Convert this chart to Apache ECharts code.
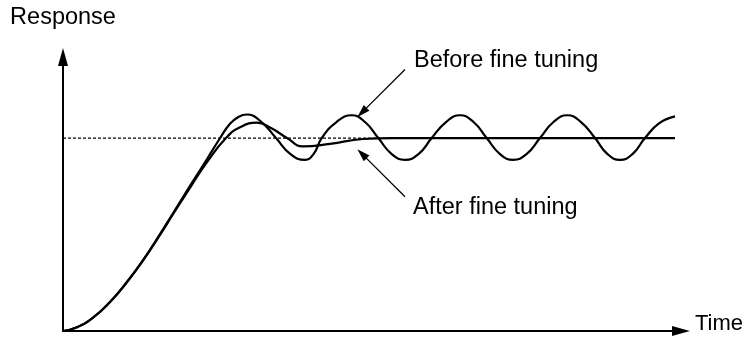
<!DOCTYPE html>
<html>
<head>
<meta charset="utf-8">
<script src="https://cdn.jsdelivr.net/npm/echarts@6/dist/echarts.min.js"></script>
<style>
  html, body { margin: 0; padding: 0; background: #ffffff; }
  #chart { width: 748px; height: 339px; }
</style>
</head>
<body>
<div id="chart"></div>
<script>
// Step response of the loop before and after fine tuning (time, response in % of set point)
const beforeTime = [
  0, 1.4, 3.0, 4.7, 6.4, 8.0, 9.7, 11.0, 12.7, 14.4, 15.7, 16.7, 17.5,
  18.37, 19.85, 21.3, 22.75, 24.2, 25.05, 25.87, 27.35,
  28.87, 30.2, 31.53, 32.87, 34.2, 35.55, 36.87, 38.3,
  39.7, 41.05, 42.37, 43.7, 45.03, 46.35, 47.7, 49.05,
  50.43, 51.8, 53.2, 54.45, 55.7, 56.95, 58.2, 59.6, 61.2
];
const beforeResponse = [
  0, 2.0, 6.9, 15.0, 25.4, 36.7, 50.2, 61.0, 75.2, 89.1, 99.9, 107.4, 110.8,
  112.2, 108.3, 100, 91.7, 88.7, 91.7, 100, 108.3,
  111.8, 108.3, 100, 91.7, 88.7, 91.7, 100, 108.3,
  111.8, 108.3, 100, 91.7, 88.7, 91.7, 100, 108.3,
  111.8, 108.3, 100, 91.7, 88.7, 91.7, 100, 107.6, 111.2
];

const afterTime = [0, 1.4, 3.0, 4.7, 6.4, 8.0, 9.7, 11.0, 12.7, 14.4, 16.3, 17.7, 19.4, 20.8, 22.4, 24.0, 26.7, 30.0, 33.0, 61.2];
const afterResponse = [0, 2.0, 6.9, 15.0, 25.4, 36.5, 49.8, 60.5, 74.2, 87.5, 100, 105.6, 108.0, 105.2, 100, 95.7, 97.0, 99.5, 100, 100];

const setPointTime = [0, 61.2];
const setPointResponse = [100, 100];

const labels = {
  yName: 'Response',
  xName: 'Time',
  before: 'Before fine tuning',
  after: 'After fine tuning'
};

// Callout arrows in data coordinates: [tail, head]
const beforeArrow = [[34.2, 135.5], [29.9, 113.3]];
const afterArrow = [[34.2, 69.6], [29.9, 91.8]];

const X_MAX = 61.8;
const Y_MAX = 142;

const zip = (xs, ys) => xs.map((x, i) => [x, ys[i]]);

const chart = echarts.init(document.getElementById('chart'), null, { renderer: 'canvas' });

const FONT = 'Liberation Sans, Arial, Helvetica, sans-serif';

chart.setOption({
  animation: false,
  backgroundColor: '#ffffff',
  grid: { left: 63, right: 67, top: 57, bottom: 8 },
  xAxis: {
    type: 'value',
    min: 0,
    max: X_MAX,
    axisLine: { show: true, lineStyle: { color: '#000', width: 2 }, symbol: ['none', 'triangle'], symbolSize: [10, 18] },
    axisTick: { show: false },
    axisLabel: { show: false },
    splitLine: { show: false }
  },
  yAxis: {
    type: 'value',
    min: 0,
    max: Y_MAX,
    name: labels.yName,
    nameLocation: 'end',
    nameGap: 27,
    nameTextStyle: { color: '#000', fontSize: 23.5, fontFamily: FONT, align: 'center' },
    axisLine: { show: true, lineStyle: { color: '#000', width: 2 }, symbol: ['none', 'triangle'], symbolSize: [10, 18] },
    axisTick: { show: false },
    axisLabel: { show: false },
    splitLine: { show: false }
  },
  series: [
    {
      name: 'Set point',
      type: 'line',
      data: zip(setPointTime, setPointResponse),
      symbol: 'none',
      lineStyle: { color: '#000', width: 1.2, type: [3, 2] },
      z: 1
    },
    {
      name: labels.before,
      type: 'line',
      data: zip(beforeTime, beforeResponse),
      symbol: 'none',
      smooth: 0.5,
      lineStyle: { color: '#000', width: 2.2 },
      z: 3,
      markLine: {
        silent: true,
        symbol: ['none', 'triangle'],
        symbolSize: [8, 13],
        label: { show: false },
        lineStyle: { color: '#000', width: 1.3, type: 'solid' },
        data: [
          [{ coord: beforeArrow[0] }, { coord: beforeArrow[1] }],
          [{ coord: afterArrow[0] }, { coord: afterArrow[1] }]
        ]
      }
    },
    {
      name: labels.after,
      type: 'line',
      data: zip(afterTime, afterResponse),
      symbol: 'none',
      smooth: 0.5,
      lineStyle: { color: '#000', width: 2.2 },
      z: 3
    }
  ]
});

// Callout texts next to the arrow tails, and the time axis title past the axis arrow
const beforePos = chart.convertToPixel({ gridIndex: 0 }, beforeArrow[0]);
const afterPos = chart.convertToPixel({ gridIndex: 0 }, afterArrow[0]);
const xEnd = chart.convertToPixel({ gridIndex: 0 }, [X_MAX, 0]);

chart.setOption({
  graphic: [
    {
      type: 'text',
      x: beforePos[0] + 9,
      y: beforePos[1] - 9,
      style: { text: labels.before, fill: '#000', font: '23.5px ' + FONT, verticalAlign: 'middle', align: 'left' }
    },
    {
      type: 'text',
      x: afterPos[0] + 8,
      y: afterPos[1] + 11,
      style: { text: labels.after, fill: '#000', font: '23.5px ' + FONT, verticalAlign: 'middle', align: 'left' }
    },
    {
      type: 'text',
      x: xEnd[0] + 14,
      y: xEnd[1] - 7,
      style: { text: labels.xName, fill: '#000', font: '22px ' + FONT, verticalAlign: 'middle', align: 'left' }
    }
  ]
});
</script>
</body>
</html>
